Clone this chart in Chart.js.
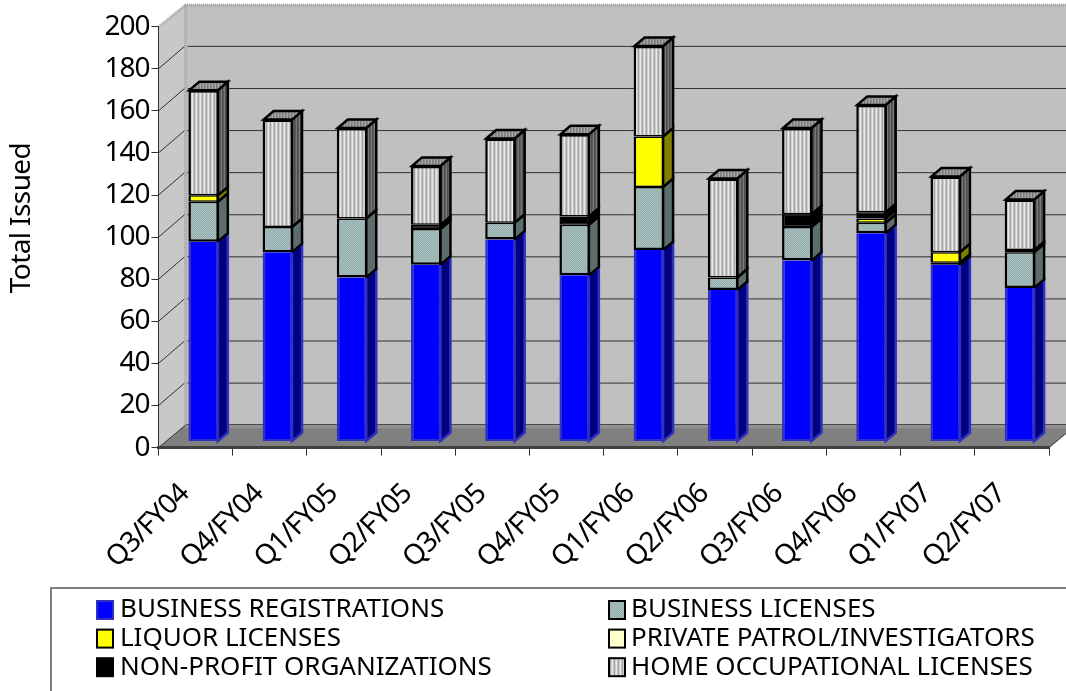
<!DOCTYPE html>
<html lang="en">
<head>
    <meta charset="UTF-8">
    <title>Licenses Issued by Quarter</title>
    <script src="https://cdn.jsdelivr.net/npm/chart.js"></script>
    <style>
        html, body { margin: 0; padding: 0; background: #ffffff; overflow: hidden; }
        canvas { display: block; }
    </style>
</head>
<body>
    <canvas id="issuedChart" width="1066" height="691"></canvas>

    <script>
        const quarters = ['Q3/FY04', 'Q4/FY04', 'Q1/FY05', 'Q2/FY05', 'Q3/FY05', 'Q4/FY05',
                          'Q1/FY06', 'Q2/FY06', 'Q3/FY06', 'Q4/FY06', 'Q1/FY07', 'Q2/FY07'];
        const businessRegistrations = [95, 90, 78, 84, 96, 79, 91, 72, 86, 99, 84, 73];
        const businessLicenses      = [19, 12, 28, 17,  8, 24, 30,  6, 16,  5,  1, 17];
        const liquorLicenses        = [ 3,  0,  0,  0,  0,  0, 24,  0,  0,  2,  5,  0];
        const privatePatrol         = [ 0,  0,  0,  0,  0,  0,  0,  0,  0,  0,  0,  0];
        const nonProfit             = [ 0,  0,  0,  2,  0,  4,  0,  0,  6,  3,  0,  1];
        const homeOccupational      = [50, 51, 43, 28, 40, 39, 43, 47, 41, 51, 36, 24];

        const FONT = '"Noto Sans", sans-serif';

        // depth of the floor and walls, and where the bars stand on the floor
        const DEPTH_X = 27, DEPTH_Y = 22.4;
        const BAR_X = 8, BAR_Y = 6;
        const BAR_DEPTH_X = 10, BAR_DEPTH_Y = 8.5;

        function makePattern(w, h, paint) {
            const c = document.createElement('canvas');
            c.width = w;
            c.height = h;
            paint(c.getContext('2d'));
            return document.getElementById('issuedChart').getContext('2d').createPattern(c, 'repeat');
        }

        function stripes(colors) {
            return makePattern(colors.length, 1, g => {
                colors.forEach((col, i) => { g.fillStyle = col; g.fillRect(i, 0, 1, 1); });
            });
        }

        function hatch(light, dark) {
            return makePattern(4, 4, g => {
                g.fillStyle = light;
                g.fillRect(0, 0, 4, 4);
                g.fillStyle = dark;
                for (let i = 0; i < 4; i++) {
                    g.fillRect(i, 3 - i, 1, 1);
                    g.fillRect(i, (5 - i) % 4, 1, 1);
                }
            });
        }

        const homeFront = stripes(['#e8e8e8', '#c4c4c4', '#a4a4a4', '#d0d0d0']);
        const homeSide = stripes(['#7a7a7a', '#4c4c4c', '#5c5c5c']);
        const homeTop = stripes(['#a8a8a8', '#7c7c7c', '#8c8c8c']);
        const licenseFront = hatch('#aac0c0', '#94aeae');
        const licenseSide = hatch('#607272', '#566868');

        // extra per-series styling for the sides of the bars
        const sideFills = ['#000080', licenseSide, '#808000', '#808066', '#000000', homeSide];
        const sideEdges = ['#3030c0', '#000000', '#000000', '#000000', '#000000', '#000000'];

        // back wall, side wall, floor and the gridlines running across them
        const roomPlugin = {
            id: 'room',
            beforeDraw(chart) {
                const { ctx, chartArea: a, scales: { y } } = chart;
                ctx.letterSpacing = '-1px';
                ctx.save();

                ctx.fillStyle = '#c0c0c0';
                ctx.fillRect(a.left + DEPTH_X, a.top - DEPTH_Y, a.width + 20, a.height);

                ctx.fillStyle = '#c8c8c8';
                ctx.beginPath();
                ctx.moveTo(a.left, a.top);
                ctx.lineTo(a.left + DEPTH_X, a.top - DEPTH_Y);
                ctx.lineTo(a.left + DEPTH_X, a.bottom - DEPTH_Y);
                ctx.lineTo(a.left, a.bottom);
                ctx.closePath();
                ctx.fill();

                y.ticks.forEach(t => {
                    if (t.value === 0 || t.value === 200) return;
                    const py = y.getPixelForValue(t.value);
                    ctx.strokeStyle = '#303030';
                    ctx.lineWidth = 1;
                    ctx.beginPath();
                    ctx.moveTo(a.left, py);
                    ctx.lineTo(a.left + DEPTH_X - 1, py - DEPTH_Y);
                    ctx.stroke();
                    ctx.beginPath();
                    ctx.moveTo(a.left + DEPTH_X + 2, py - DEPTH_Y);
                    ctx.lineTo(a.right + DEPTH_X, py - DEPTH_Y);
                    ctx.stroke();
                });

                // floor
                ctx.fillStyle = '#808080';
                ctx.beginPath();
                ctx.moveTo(a.left, a.bottom);
                ctx.lineTo(a.left + DEPTH_X, a.bottom - DEPTH_Y);
                ctx.lineTo(a.right + DEPTH_X, a.bottom - DEPTH_Y);
                ctx.lineTo(a.right, a.bottom);
                ctx.closePath();
                ctx.fill();

                ctx.strokeStyle = '#303030';
                ctx.lineWidth = 1;
                ctx.beginPath();
                ctx.moveTo(a.left + DEPTH_X, a.bottom - DEPTH_Y - 0.5);
                ctx.lineTo(a.right + DEPTH_X, a.bottom - DEPTH_Y - 0.5);
                ctx.moveTo(a.right, a.bottom);
                ctx.lineTo(a.right + DEPTH_X, a.bottom - DEPTH_Y);
                ctx.moveTo(a.left, a.bottom);
                ctx.lineTo(a.left + DEPTH_X, a.bottom - DEPTH_Y);
                ctx.stroke();

                // dotted wall edges
                ctx.strokeStyle = '#a0a0a0';
                ctx.lineWidth = 3;
                ctx.setLineDash([1, 1]);
                ctx.beginPath();
                ctx.moveTo(a.left, a.top);
                ctx.lineTo(a.left + DEPTH_X, a.top - DEPTH_Y + 1);
                ctx.lineTo(a.right + DEPTH_X, a.top - DEPTH_Y + 1);
                ctx.moveTo(a.left + DEPTH_X, a.top - DEPTH_Y + 1);
                ctx.lineTo(a.left + DEPTH_X, a.bottom - DEPTH_Y);
                ctx.moveTo(a.left + DEPTH_X, a.bottom - DEPTH_Y + 1.5);
                ctx.lineTo(a.right + DEPTH_X, a.bottom - DEPTH_Y + 1.5);
                ctx.stroke();
                ctx.restore();
            },
            afterDraw(chart) {
                const { ctx } = chart;
                ctx.save();
                ctx.translate(22, 218);
                ctx.rotate(-Math.PI / 2);
                ctx.letterSpacing = '-0.6px';
                ctx.font = '28px ' + FONT;
                ctx.fillStyle = '#000000';
                ctx.textAlign = 'center';
                ctx.textBaseline = 'middle';
                ctx.fillText('Total Issued', 0, 0);
                ctx.restore();
            }
        };

        // shifts the bars onto the floor and adds their side and top faces
        const barDepthPlugin = {
            id: 'barDepth',
            beforeDatasetsDraw(chart) {
                const { ctx } = chart;
                ctx.save();
                ctx.translate(BAR_X, -BAR_Y);

                chart.data.labels.forEach((_, i) => {
                    let topBar = null;
                    chart.data.datasets.forEach((ds, d) => {
                        if (!ds.data[i]) return;
                        const bar = chart.getDatasetMeta(d).data[i];
                        const right = bar.x + bar.width / 2 - 1;
                        ctx.fillStyle = sideFills[d];
                        ctx.strokeStyle = sideEdges[d];
                        ctx.lineWidth = 2.5;
                        ctx.beginPath();
                        ctx.moveTo(right, bar.base);
                        ctx.lineTo(right + BAR_DEPTH_X, bar.base - BAR_DEPTH_Y);
                        ctx.lineTo(right + BAR_DEPTH_X, bar.y - BAR_DEPTH_Y);
                        ctx.lineTo(right, bar.y);
                        ctx.closePath();
                        ctx.fill();
                        ctx.stroke();
                        topBar = bar;
                    });

                    const left = topBar.x - topBar.width / 2 + 1;
                    const right = topBar.x + topBar.width / 2 - 1;
                    ctx.fillStyle = homeTop;
                    ctx.strokeStyle = '#000000';
                    ctx.lineWidth = 2.5;
                    ctx.beginPath();
                    ctx.moveTo(left, topBar.y);
                    ctx.lineTo(left + BAR_DEPTH_X, topBar.y - BAR_DEPTH_Y);
                    ctx.lineTo(right + BAR_DEPTH_X, topBar.y - BAR_DEPTH_Y);
                    ctx.lineTo(right, topBar.y);
                    ctx.closePath();
                    ctx.fill();
                    ctx.stroke();
                });
            },
            afterDatasetsDraw(chart) {
                chart.ctx.restore();
            }
        };

        // two column legend in a box that runs off the page
        const boxLegendPlugin = {
            id: 'boxLegend',
            afterDraw(chart) {
                const { ctx } = chart;
                ctx.save();
                ctx.strokeStyle = '#808080';
                ctx.lineWidth = 2;
                ctx.beginPath();
                ctx.moveTo(51, 700);
                ctx.lineTo(51, 588);
                ctx.lineTo(1070, 588);
                ctx.stroke();

                ctx.font = '26px ' + FONT;
                ctx.letterSpacing = '0px';
                ctx.textBaseline = 'middle';
                chart.data.datasets.forEach((ds, d) => {
                    const col = d % 2;
                    const rowY = 610 + Math.floor(d / 2) * 28.6;
                    const boxX = col ? 609 : 97;
                    ctx.fillStyle = ds.backgroundColor;
                    ctx.strokeStyle = ds.borderColor;
                    ctx.lineWidth = 2;
                    ctx.fillRect(boxX, rowY - 9, 16, 18);
                    ctx.strokeRect(boxX, rowY - 9, 16, 18);
                    ctx.fillStyle = '#000000';
                    ctx.fillText(ds.label, col ? 631 : 120, rowY);
                });
                ctx.restore();
            }
        };

        function series(label, data, backgroundColor, borderColor, top, bottom) {
            return {
                label, data, backgroundColor, borderColor,
                borderWidth: { left: 2.5, right: 2.5, top, bottom },
                borderSkipped: false,
                stack: 'issued'
            };
        }

        new Chart(document.getElementById('issuedChart'), {
            type: 'bar',
            data: {
                labels: quarters,
                datasets: [
                    series('BUSINESS REGISTRATIONS', businessRegistrations, '#0000ff', '#3030c0', 0, 2),
                    series('BUSINESS LICENSES', businessLicenses, licenseFront, '#000000', 1.5, 2.5),
                    series('LIQUOR LICENSES', liquorLicenses, '#ffff00', '#000000', 1.5, 1.5),
                    series('PRIVATE PATROL/INVESTIGATORS', privatePatrol, '#ffffcc', '#000000', 1.5, 1.5),
                    series('NON-PROFIT ORGANIZATIONS', nonProfit, '#000000', '#000000', 1.5, 1.5),
                    series('HOME OCCUPATIONAL LICENSES', homeOccupational, homeFront, '#000000', 2.5, 1.5)
                ]
            },
            options: {
                responsive: false,
                animation: false,
                categoryPercentage: 1,
                barPercentage: 0.41,
                layout: { padding: { top: 26.7, right: 17, left: 0, bottom: 0 } },
                plugins: {
                    legend: { display: false },
                    title: { display: false },
                    tooltip: { enabled: false }
                },
                scales: {
                    x: {
                        stacked: true,
                        afterFit(scale) { scale.height = 243.4; },
                        grid: { drawOnChartArea: false, tickLength: 8, color: '#303030', lineWidth: 1 },
                        border: { color: '#404040', width: 3 },
                        ticks: {
                            autoSkip: false,
                            minRotation: 45,
                            maxRotation: 45,
                            padding: 22,
                            labelOffset: -11,
                            color: '#000000',
                            font: { family: FONT, size: 28 }
                        }
                    },
                    y: {
                        stacked: true,
                        min: 0,
                        max: 200,
                        afterFit(scale) { scale.width = 158.5; },
                        grid: { drawOnChartArea: false, tickLength: 7, color: '#303030', lineWidth: 1 },
                        border: { color: '#303030', width: 1 },
                        ticks: {
                            stepSize: 20,
                            padding: 2,
                            color: '#000000',
                            font: { family: FONT, size: 28 }
                        }
                    }
                }
            },
            plugins: [roomPlugin, barDepthPlugin, boxLegendPlugin]
        });
    </script>
</body>
</html>
